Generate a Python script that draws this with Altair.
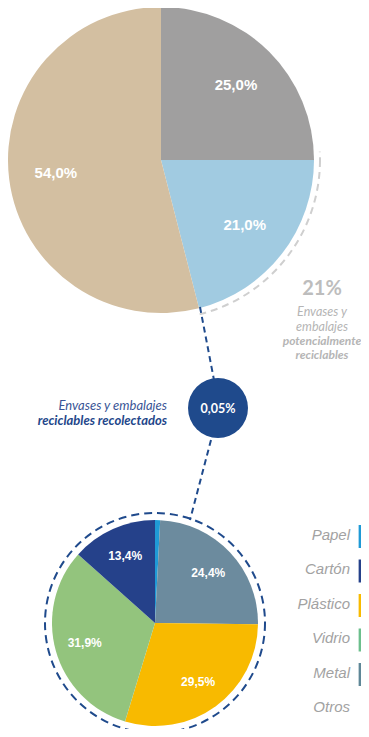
import math
import altair as alt
import pandas as pd

# ---------------- data ----------------
top_cats = ["Resto A", "Potencialmente reciclables", "Resto B"]
top_vals = [25.0, 21.0, 54.0]
top_labels = ["25,0%", "21,0%", "54,0%"]
top_colors = ["#a09f9f", "#a1cbe1", "#d3bfa1"]

mat_cats = ["Papel", "Metal", "Plástico", "Vidrio", "Cartón"]
mat_vals = [0.8, 24.4, 29.5, 31.9, 13.4]
mat_labels = ["", "24,4%", "29,5%", "31,9%", "13,4%"]
mat_colors = ["#1f9ad6", "#6c8b9e", "#f8ba00", "#93c47d", "#25418a"]

legend_cats = ["Papel", "Cartón", "Plástico", "Vidrio", "Metal", "Otros"]
legend_bar_cats = ["Papel", "Cartón", "Plástico", "Vidrio", "Metal"]
legend_bar_colors = ["#1f9ad6", "#25418a", "#f8ba00", "#6cbf8c", "#5f8797"]

collected_value = "0,05%"
potential_value = "21%"
potential_text = ["Envases y", "embalajes"]
potential_bold = ["potencialmente", "reciclables"]
collected_text = "Envases y embalajes"
collected_bold = "reciclables recolectados"

NAVY = "#1f4a8c"
one = pd.DataFrame({"k": [0]})

# ---------------- geometry (layout) ----------------
TX, TY, TR = 153, 152, 153
BX, BY, BR = 147, 615, 103


def rad(d):
    return d * math.pi / 180


# top pie
top_df = pd.DataFrame({"cat": top_cats, "val": top_vals, "label": top_labels,
                       "ord": list(range(len(top_cats)))})
top_base = alt.Chart(top_df).encode(
    theta=alt.Theta("val:Q", stack=True),
    order=alt.Order("ord:Q"),
)
top_arc = top_base.mark_arc(radius=TR, stroke=None).encode(
    x=alt.value(TX), y=alt.value(TY),
    color=alt.Color("cat:N", scale=alt.Scale(domain=top_cats, range=top_colors), legend=None),
)
top_txt = top_base.mark_text(radius=106, color="white", font="Liberation Sans",
                             fontWeight="bold", fontSize=15).encode(
    x=alt.value(TX), y=alt.value(TY), text="label:N")

# dashed gray arc around the recyclable slice
gray_ring = alt.Chart(one).mark_point(shape="circle", size=(2 * 159) ** 2, filled=False,
                                      stroke="#cfcfcf", strokeWidth=2, strokeDash=[7, 5],
                                      opacity=1).encode(x=alt.value(TX), y=alt.value(TY))
mask = alt.Chart(one).mark_arc(theta=rad(166), theta2=rad(447), radius=156, radius2=185).encode(
    x=alt.value(TX), y=alt.value(TY), color=alt.value("white"))

# connectors
conn1 = alt.Chart(one).mark_rule(strokeDash=[6, 4], strokeWidth=2, color=NAVY).encode(
    x=alt.value(192), y=alt.value(299), x2=alt.value(206), y2=alt.value(372))
conn2 = alt.Chart(one).mark_rule(strokeDash=[6, 4], strokeWidth=2, color=NAVY).encode(
    x=alt.value(203), y=alt.value(432), x2=alt.value(182), y2=alt.value(512))

# small circle
small = alt.Chart(one).mark_arc(theta=0, theta2=2 * math.pi, radius=30).encode(
    x=alt.value(210), y=alt.value(400), color=alt.value(NAVY))
small_txt = alt.Chart(one).mark_text(color="white", font="Lato", fontWeight="bold",
                                     fontSize=12.5).encode(
    x=alt.value(210), y=alt.value(401), text=alt.value(collected_value))

# lower pie
mat_df = pd.DataFrame({"cat": mat_cats, "val": mat_vals, "label": mat_labels,
                       "ord": list(range(len(mat_cats)))})
mat_base = alt.Chart(mat_df).encode(
    theta=alt.Theta("val:Q", stack=True),
    order=alt.Order("ord:Q"),
)
mat_arc = mat_base.mark_arc(radius=BR, stroke=None).encode(
    x=alt.value(BX), y=alt.value(BY),
    color=alt.Color("cat:N", scale=alt.Scale(domain=mat_cats, range=mat_colors), legend=None),
)
mat_txt = mat_base.mark_text(radius=73, color="white", font="Liberation Sans",
                             fontWeight="bold", fontSize=12).encode(
    x=alt.value(BX), y=alt.value(BY), text="label:N")
mat_ring = alt.Chart(one).mark_point(shape="circle", size=(2 * 110) ** 2, filled=False,
                                     stroke=NAVY, strokeWidth=2, strokeDash=[8, 5],
                                     opacity=1).encode(x=alt.value(BX), y=alt.value(BY))

# annotations
ann_21 = alt.Chart(one).mark_text(color="#bdbdbd", font="Lato", fontWeight="bold",
                                  fontSize=20).encode(
    x=alt.value(314), y=alt.value(281), text=alt.value(potential_value))
ann_pt = alt.Chart(one).mark_text(color="#b5b5b5", font="Lato", fontStyle="italic",
                                  fontSize=12.5, lineHeight=15, baseline="middle").encode(
    x=alt.value(314), y=alt.value(304), text=alt.value(potential_text))
ann_pb = alt.Chart(one).mark_text(color="#b5b5b5", font="Lato", fontStyle="italic",
                                  fontWeight="bold", fontSize=12, lineHeight=14,
                                  baseline="middle").encode(
    x=alt.value(314), y=alt.value(333), text=alt.value(potential_bold))
ann_ct = alt.Chart(one).mark_text(color="#3a5596", font="Lato", fontStyle="italic",
                                  fontSize=13, align="right", baseline="middle").encode(
    x=alt.value(159), y=alt.value(398), text=alt.value(collected_text))
ann_cb = alt.Chart(one).mark_text(color="#23468a", font="Lato", fontStyle="italic",
                                  fontWeight="bold", fontSize=13, align="right",
                                  baseline="middle").encode(
    x=alt.value(159), y=alt.value(413), text=alt.value(collected_bold))

# legend
ly = alt.Y("cat:N", scale=alt.Scale(type="point", domain=legend_cats, range=[528.5, 701],
                                    padding=0), axis=None)
leg_df = pd.DataFrame({"cat": legend_cats})
leg_txt = alt.Chart(leg_df).mark_text(color="#a2a2a2", font="Liberation Sans",
                                      fontStyle="italic", fontSize=15, align="right",
                                      baseline="middle", dy=-2).encode(
    x=alt.value(342), y=ly, text="cat:N")
leg_bar_df = pd.DataFrame({"cat": legend_bar_cats})
leg_bar = alt.Chart(leg_bar_df).mark_point(
    shape="M-0.12,-1L0.12,-1L0.12,1L-0.12,1Z", size=23 ** 2, filled=True, opacity=1,
    strokeWidth=0).encode(
    x=alt.value(352), y=ly,
    color=alt.Color("cat:N", scale=alt.Scale(domain=legend_bar_cats, range=legend_bar_colors),
                    legend=None))

chart = alt.layer(
    gray_ring, mask, top_arc, top_txt, conn1, conn2, small, small_txt,
    mat_ring, mat_arc, mat_txt, ann_21, ann_pt, ann_pb, ann_ct, ann_cb, leg_txt, leg_bar,
).resolve_scale(
    color="independent", theta="independent"
).properties(
    width=353, height=721, padding=0, autosize=alt.AutoSizeParams(type="none"),
).configure_view(stroke=None)

chart.save("out.html", embed_options={"renderer": "svg", "actions": False})
